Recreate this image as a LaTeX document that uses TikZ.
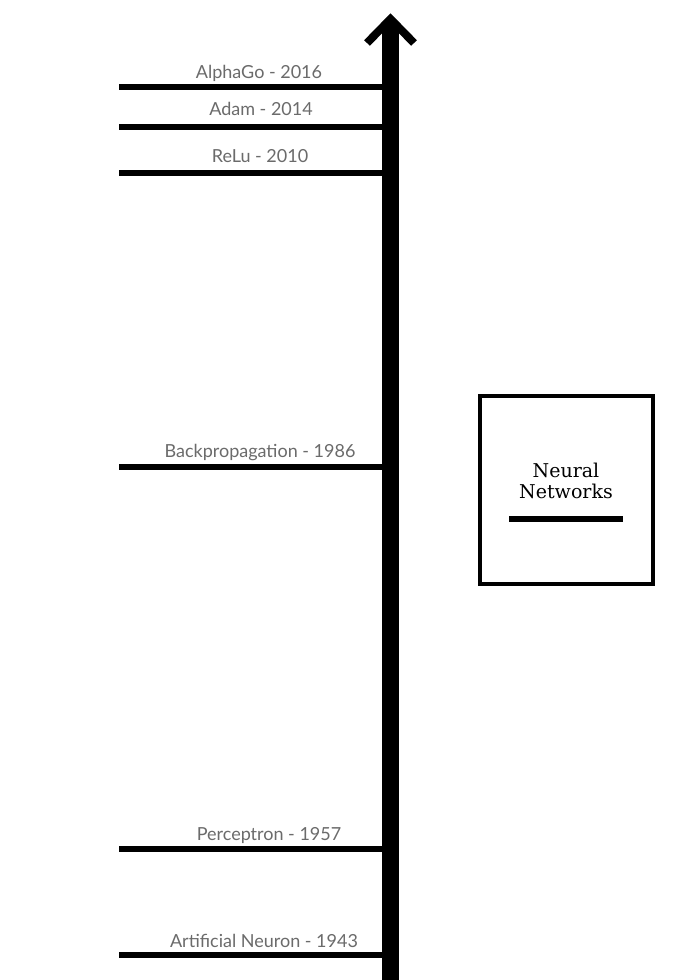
\documentclass[tikz,border=0pt]{standalone}
\usepackage{fontspec}
\setmainfont{Lato}
\newfontfamily\serifnn{DejaVu Serif}
\begin{document}
\begin{tikzpicture}[x=1pt,y=1pt,
  tick/.style={line width=6pt},
  lbl/.style={anchor=base,inner sep=0pt,text=black!58,font=\fontsize{18}{21}\selectfont},
  axis/.style={line width=17pt},
  chev/.style={line width=8pt,miter limit=10,line join=miter}]
\useasboundingbox[fill=white] (0,0) rectangle (700,-980);
% axis
\coordinate (bot) at (390.5,-980);
\coordinate (top) at (390.5,-22);
\coordinate (apex) at (390.5,-19);
\coordinate (cl) at (367,-43);
\coordinate (cr) at (414,-43);
\draw[axis] (bot) -- (top);
\draw[chev] (cl) -- (apex) -- (cr);
% ticks
\foreach \n/\y in {a/87,b/127,c/173,d/467,e/849,f/955}{
  \coordinate (\n L) at (119,-\y);
  \coordinate (\n R) at (383,-\y);
  \draw[tick] (\n L) -- (\n R);
}
\node[lbl] (la) at (259,-78) {AlphaGo - 2016};
\node[lbl] (lb) at (261,-115) {Adam - 2014};
\node[lbl] (lc) at (260,-162) {ReLu - 2010};
\node[lbl] (ld) at (260,-457) {Backpropagation - 1986};
\node[lbl] (le) at (269,-840) {Perceptron - 1957};
\node[lbl] (lf) at (264,-947) {Artificial Neuron - 1943};
% box
\node[draw,line width=4pt,minimum width=173pt,minimum height=188pt,inner sep=0pt] (box) at (566,-489.5) {};
\node[align=center,font=\serifnn\fontsize{19}{21}\selectfont,inner sep=0pt] (title) at (566,-481) {Neural\\Networks};
\coordinate (ul) at (509,-519);
\coordinate (ur) at (623,-519);
\draw[tick] (ul) -- (ur);
\end{tikzpicture}
\end{document}
